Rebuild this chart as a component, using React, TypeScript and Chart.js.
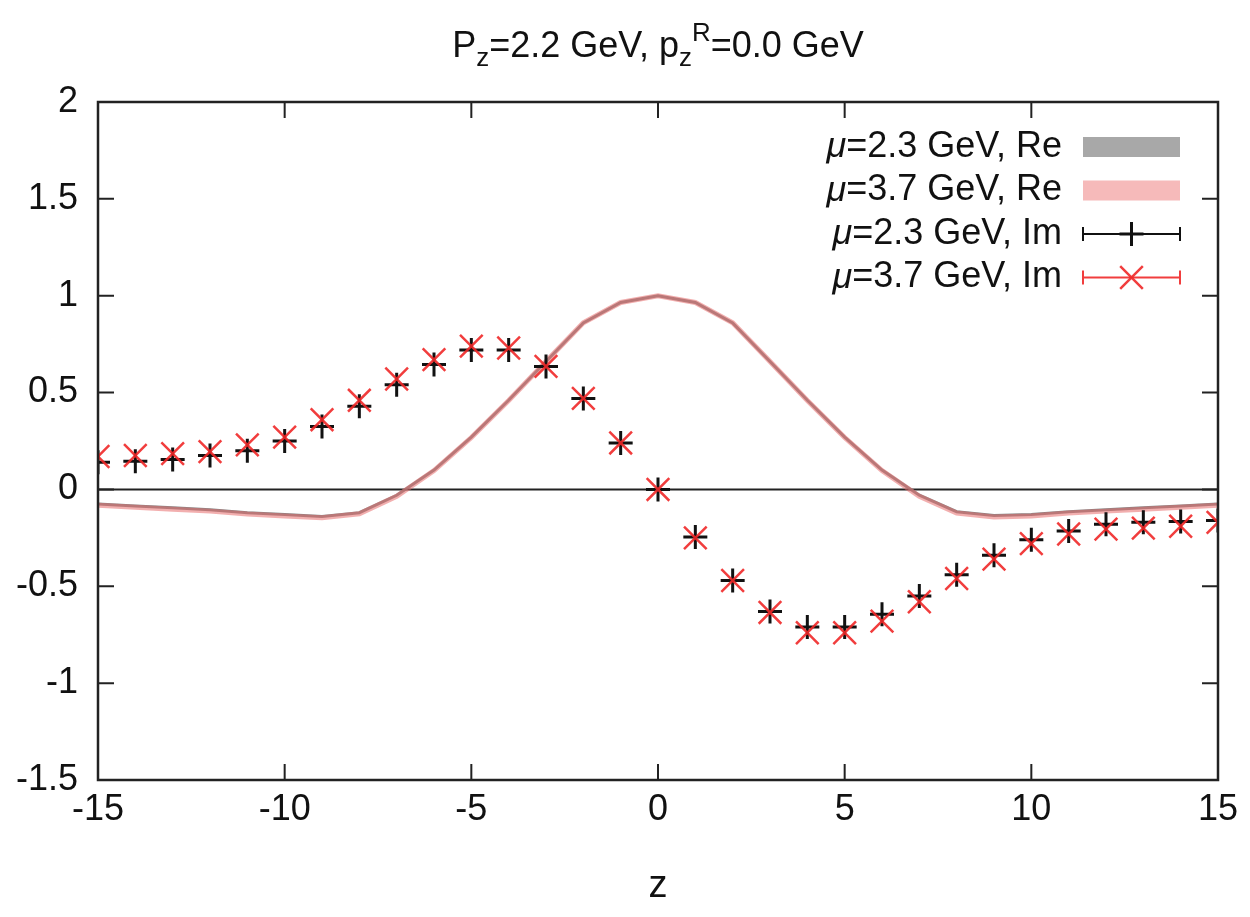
import React, { useEffect, useRef } from 'react';
import { Chart, registerables } from 'chart.js';

Chart.register(...registerables);

const zValues = [-15, -14, -13, -12, -11, -10, -9, -8, -7, -6, -5, -4, -3, -2, -1, 0, 1, 2, 3, 4, 5, 6, 7, 8, 9, 10, 11, 12, 13, 14, 15];

const re23 = [-0.075, -0.085, -0.095, -0.105, -0.12, -0.13, -0.14, -0.12, -0.03, 0.1, 0.27, 0.46, 0.66, 0.86, 0.965, 1.0, 0.965, 0.86, 0.66, 0.46, 0.27, 0.1, -0.03, -0.115, -0.135, -0.13, -0.115, -0.105, -0.095, -0.085, -0.075];
const re37 = [-0.082, -0.092, -0.102, -0.112, -0.127, -0.137, -0.146, -0.126, -0.035, 0.097, 0.268, 0.459, 0.66, 0.86, 0.965, 1.0, 0.965, 0.86, 0.66, 0.459, 0.268, 0.097, -0.035, -0.122, -0.142, -0.137, -0.122, -0.112, -0.102, -0.092, -0.082];

const im23 = [0.14, 0.145, 0.155, 0.175, 0.2, 0.25, 0.325, 0.43, 0.54, 0.645, 0.72, 0.72, 0.635, 0.47, 0.24, 0.0, -0.245, -0.47, -0.63, -0.71, -0.71, -0.645, -0.55, -0.44, -0.34, -0.26, -0.215, -0.18, -0.17, -0.165, -0.16];
const im37 = [0.17, 0.175, 0.185, 0.195, 0.23, 0.27, 0.36, 0.46, 0.57, 0.67, 0.74, 0.73, 0.635, 0.47, 0.24, 0.0, -0.25, -0.47, -0.635, -0.74, -0.74, -0.68, -0.58, -0.46, -0.36, -0.28, -0.23, -0.205, -0.2, -0.19, -0.17];

const seriesLabels = ['μ=2.3 GeV, Re', 'μ=3.7 GeV, Re', 'μ=2.3 GeV, Im', 'μ=3.7 GeV, Im'];

const FONT = "'Liberation Sans', Arial, Helvetica, sans-serif";

const toPoints = (ys: number[]) => zValues.map((x, i) => ({ x, y: ys[i] }));

const framePlugin = {
  id: 'gnuplotFrame',
  beforeDatasetsDraw(chart: any) {
    const { ctx, chartArea } = chart;
    const yScale = chart.scales.y;
    const y0 = yScale.getPixelForValue(0);
    ctx.save();
    ctx.strokeStyle = '#222';
    ctx.lineWidth = 2;
    ctx.beginPath();
    ctx.moveTo(chartArea.left, y0);
    ctx.lineTo(chartArea.right, y0);
    ctx.stroke();
    ctx.restore();
  },
  afterDraw(chart: any) {
    const { ctx, chartArea } = chart;
    const { left, right, top, bottom } = chartArea;
    const xScale = chart.scales.x;
    const yScale = chart.scales.y;
    const tl = 16;
    ctx.save();
    ctx.strokeStyle = '#222';
    ctx.lineWidth = 2;
    ctx.beginPath();
    xScale.ticks.forEach((t: any) => {
      const px = xScale.getPixelForValue(t.value);
      ctx.moveTo(px, bottom);
      ctx.lineTo(px, bottom - tl);
      ctx.moveTo(px, top);
      ctx.lineTo(px, top + tl);
    });
    yScale.ticks.forEach((t: any) => {
      const py = yScale.getPixelForValue(t.value);
      ctx.moveTo(left, py);
      ctx.lineTo(left + tl, py);
      ctx.moveTo(right, py);
      ctx.lineTo(right - tl, py);
    });
    ctx.stroke();
    ctx.lineWidth = 2.5;
    ctx.strokeRect(left, top, right - left, bottom - top);

    // legend
    const rowY0 = top + 45;
    const rowH = 43.5;
    const textRight = right - 156;
    const sx0 = right - 135;
    const sx1 = right - 38;
    chart.data.datasets.forEach((ds: any, i: number) => {
      const cy = rowY0 + i * rowH;
      const label: string = ds.label;
      const first = label.charAt(0);
      const rest = label.slice(1);
      ctx.fillStyle = '#111';
      ctx.textBaseline = 'middle';
      ctx.textAlign = 'right';
      ctx.font = `36px ${FONT}`;
      const rw = ctx.measureText(rest).width;
      ctx.fillText(rest, textRight, cy);
      ctx.font = `italic 36px ${FONT}`;
      ctx.fillText(first, textRight - rw, cy);
      if (ds.legendKind === 'band') {
        ctx.fillStyle = ds.legendColor;
        ctx.fillRect(sx0, cy - 10, sx1 - sx0, 20);
      } else {
        ctx.strokeStyle = ds.borderColor;
        ctx.lineWidth = 2;
        ctx.beginPath();
        ctx.moveTo(sx0, cy);
        ctx.lineTo(sx1, cy);
        ctx.moveTo(sx0, cy - 7);
        ctx.lineTo(sx0, cy + 7);
        ctx.moveTo(sx1, cy - 7);
        ctx.lineTo(sx1, cy + 7);
        ctx.stroke();
        const cx = (sx0 + sx1) / 2;
        ctx.lineWidth = ds.borderWidth;
        ctx.beginPath();
        if (ds.pointStyle === 'cross') {
          const r = ds.pointRadius;
          ctx.moveTo(cx - r, cy);
          ctx.lineTo(cx + r, cy);
          ctx.moveTo(cx, cy - r);
          ctx.lineTo(cx, cy + r);
        } else {
          const r = ds.pointRadius * Math.SQRT1_2;
          ctx.moveTo(cx - r, cy - r);
          ctx.lineTo(cx + r, cy + r);
          ctx.moveTo(cx - r, cy + r);
          ctx.lineTo(cx + r, cy - r);
        }
        ctx.stroke();
      }
    });
    ctx.restore();
  },
};

export default function App() {
  const canvasRef = useRef<HTMLCanvasElement | null>(null);

  useEffect(() => {
    if (!canvasRef.current) return;
    const chart = new Chart(canvasRef.current, {
      type: 'line',
      data: {
        datasets: [
          {
            label: seriesLabels[0],
            data: toPoints(re23),
            borderColor: 'rgba(110,110,110,0.85)',
            borderWidth: 3,
            pointRadius: 0,
            tension: 0,
            order: 4,
            legendKind: 'band',
            legendColor: 'rgb(168,168,168)',
          } as any,
          {
            label: seriesLabels[1],
            data: toPoints(re37),
            borderColor: 'rgba(232,110,110,0.55)',
            borderWidth: 5,
            pointRadius: 0,
            tension: 0,
            order: 3,
            legendKind: 'band',
            legendColor: 'rgb(246,186,186)',
          } as any,
          {
            label: seriesLabels[2],
            data: toPoints(im23),
            showLine: false,
            pointStyle: 'cross',
            pointRadius: 12,
            borderColor: '#111',
            borderWidth: 3,
            order: 2,
            legendKind: 'err',
          } as any,
          {
            label: seriesLabels[3],
            data: toPoints(im37),
            showLine: false,
            pointStyle: 'crossRot',
            pointRadius: 16,
            borderColor: 'rgba(240,40,40,0.9)',
            borderWidth: 2.5,
            order: 1,
            legendKind: 'err',
          } as any,
        ],
      },
      options: {
        animation: false,
        responsive: true,
        maintainAspectRatio: false,
        layout: { padding: { left: 0, right: 32, top: 102, bottom: 0 } },
        plugins: {
          legend: { display: false },
          tooltip: { enabled: false },
          title: { display: false },
        },
        scales: {
          x: {
            type: 'linear',
            min: -15,
            max: 15,
            grid: { display: false, drawTicks: false },
            border: { display: false },
            ticks: {
              stepSize: 5,
              color: '#111',
              font: { family: FONT, size: 36 },
              padding: 8,
              maxRotation: 0,
              callback: (v: any) => String(Number(v)),
            },
            title: {
              display: true,
              text: 'z',
              color: '#111',
              font: { family: FONT, size: 38 },
              padding: { top: 0, bottom: 8 },
            },
            afterFit: (scale: any) => {
              scale.height = 137;
            },
          },
          y: {
            type: 'linear',
            min: -1.5,
            max: 2,
            grid: { display: false, drawTicks: false },
            border: { display: false },
            ticks: {
              stepSize: 0.5,
              color: '#111',
              font: { family: FONT, size: 36 },
              padding: 20,
              callback: (v: any) => String(Number(v)),
            },
            afterFit: (scale: any) => {
              scale.width = 98;
            },
          },
        },
      } as any,
      plugins: [framePlugin],
    });
    return () => chart.destroy();
  }, []);

  const subStyle: React.CSSProperties = { fontSize: '0.72em', position: 'relative', top: '0.35em' };
  const supStyle: React.CSSProperties = { fontSize: '0.72em', position: 'relative', top: '-0.6em' };

  return (
    <div style={{ position: 'absolute', left: 0, top: 0, width: 1250, height: 917, background: '#fff' }}>
      <canvas ref={canvasRef} />
      <div
        style={{
          position: 'absolute',
          left: 98,
          width: 1120,
          top: 24,
          textAlign: 'center',
          fontFamily: FONT,
          fontSize: 36,
          lineHeight: '42px',
          color: '#111',
          whiteSpace: 'nowrap',
        }}
      >
        P<span style={subStyle}>z</span>=2.2 GeV, p<span style={subStyle}>z</span>
        <span style={supStyle}>R</span>=0.0 GeV
      </div>
    </div>
  );
}
